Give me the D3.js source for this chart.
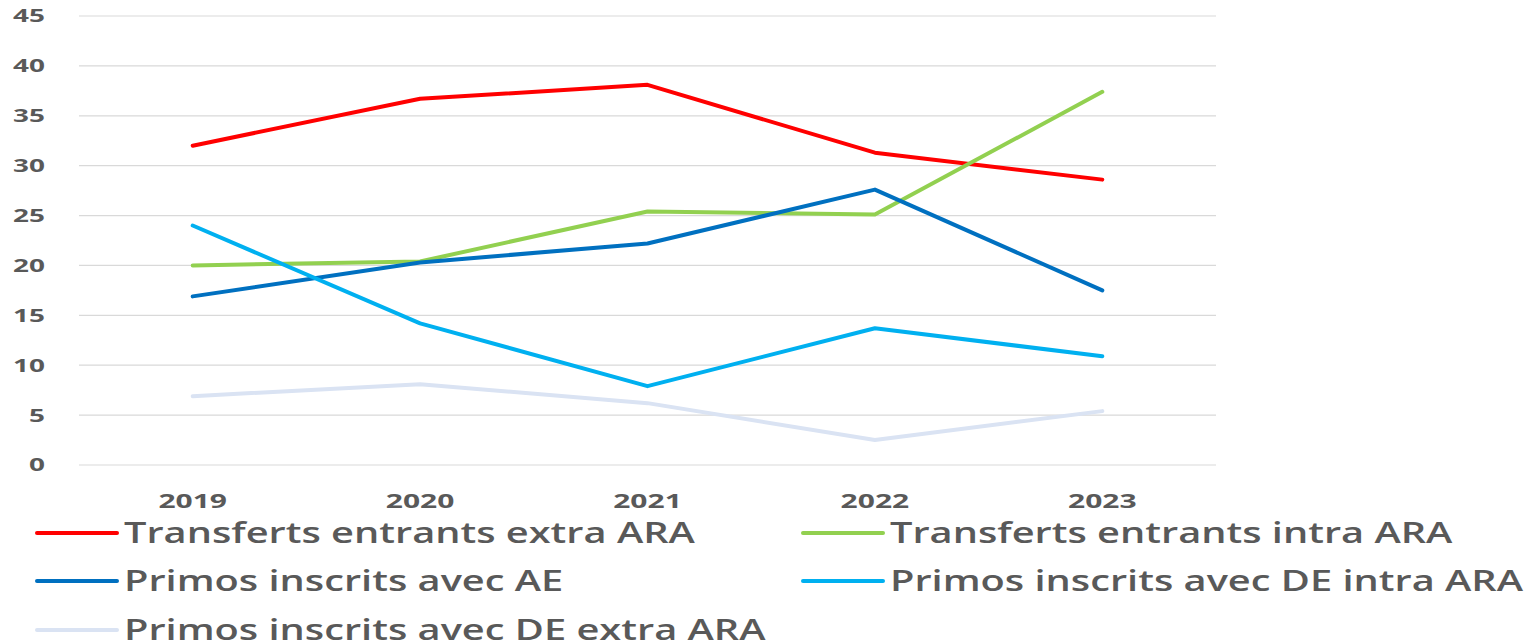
<!DOCTYPE html>
<html>
<head>
<meta charset="utf-8">
<script src="https://cdn.jsdelivr.net/npm/d3@7"></script>
<style>
  body { margin: 0; background: #fff; }
  text { font-family: "Open Sans", sans-serif; fill: #595959; }
</style>
</head>
<body>
<script>
const years = ["2019", "2020", "2021", "2022", "2023"];
const yTicks = [0, 5, 10, 15, 20, 25, 30, 35, 40, 45];

const transfertsExtra = [32.0, 36.7, 38.1, 31.3, 28.6];
const transfertsIntra = [20.0, 20.4, 25.4, 25.1, 37.4];
const primosAE = [16.9, 20.3, 22.2, 27.6, 17.5];
const primosDEIntra = [24.0, 14.2, 7.9, 13.7, 10.9];
const primosDEExtra = [6.9, 8.1, 6.2, 2.5, 5.4];

const seriesNames = [
  "Transferts entrants extra ARA",
  "Transferts entrants intra ARA",
  "Primos inscrits avec AE",
  "Primos inscrits avec DE intra ARA",
  "Primos inscrits avec DE extra ARA"
];
const seriesValues = [transfertsExtra, transfertsIntra, primosAE, primosDEIntra, primosDEExtra];
const seriesColors = ["#FF0000", "#92D050", "#0070C0", "#00B0F0", "#DAE3F3"];

const w = 1530, h = 644;
const padLeft = 79, padRight = 1216, padTop = 16, padBottom = 465;

const svg = d3.select("body").append("svg")
  .attr("width", w).attr("height", h);

const xScale = d3.scalePoint().domain(years).range([padLeft, padRight]).padding(0.5);
const yScale = d3.scaleLinear().domain([0, 45]).range([padBottom, padTop]);

// gridlines
svg.append("g")
  .selectAll("line")
  .data(yTicks)
  .enter()
  .append("line")
  .attr("x1", padLeft).attr("x2", padRight)
  .attr("y1", d => yScale(d)).attr("y2", d => yScale(d))
  .attr("stroke", "#D9D9D9")
  .attr("stroke-width", 1.2);

// y labels
svg.append("g")
  .selectAll("text")
  .data(yTicks)
  .enter()
  .append("text")
  .attr("transform", d => `translate(45, ${yScale(d)}) scale(1.55,1)`)
  .attr("text-anchor", "end")
  .attr("dy", "0.36em")
  .style("font-size", "18px")
  .style("font-weight", "bold")
  .text(d => d);

// x labels
svg.append("g")
  .selectAll("text")
  .data(years)
  .enter()
  .append("text")
  .attr("transform", d => `translate(${xScale(d)}, 508) scale(1.5,1)`)
  .attr("text-anchor", "middle")
  .style("font-size", "20px")
  .style("font-weight", "bold")
  .text(d => d);

// lines
const line = d3.line()
  .x((d, i) => xScale(years[i]))
  .y(d => yScale(d));

svg.append("g")
  .selectAll("path")
  .data(seriesValues)
  .enter()
  .append("path")
  .attr("d", d => line(d))
  .attr("fill", "none")
  .attr("stroke", (d, i) => seriesColors[i])
  .attr("stroke-width", 4)
  .attr("stroke-linecap", "round")
  .attr("stroke-linejoin", "round");

// legend
const legCols = [37, 803];
const legRows = [533, 581, 630];
const leg = svg.append("g")
  .selectAll("g")
  .data(seriesNames)
  .enter()
  .append("g")
  .attr("transform", (d, i) => `translate(${legCols[i % 2]}, ${legRows[Math.floor(i / 2)]})`);

leg.append("line")
  .attr("x1", 0).attr("x2", 80)
  .attr("y1", 0).attr("y2", 0)
  .attr("stroke", (d, i) => seriesColors[i])
  .attr("stroke-width", 4)
  .attr("stroke-linecap", "round");

leg.append("text")
  .attr("transform", "translate(87, 10) scale(1.42,1)")
  .style("font-size", "28px")
  .style("font-weight", "600")
  .text(d => d);
</script>
</body>
</html>
